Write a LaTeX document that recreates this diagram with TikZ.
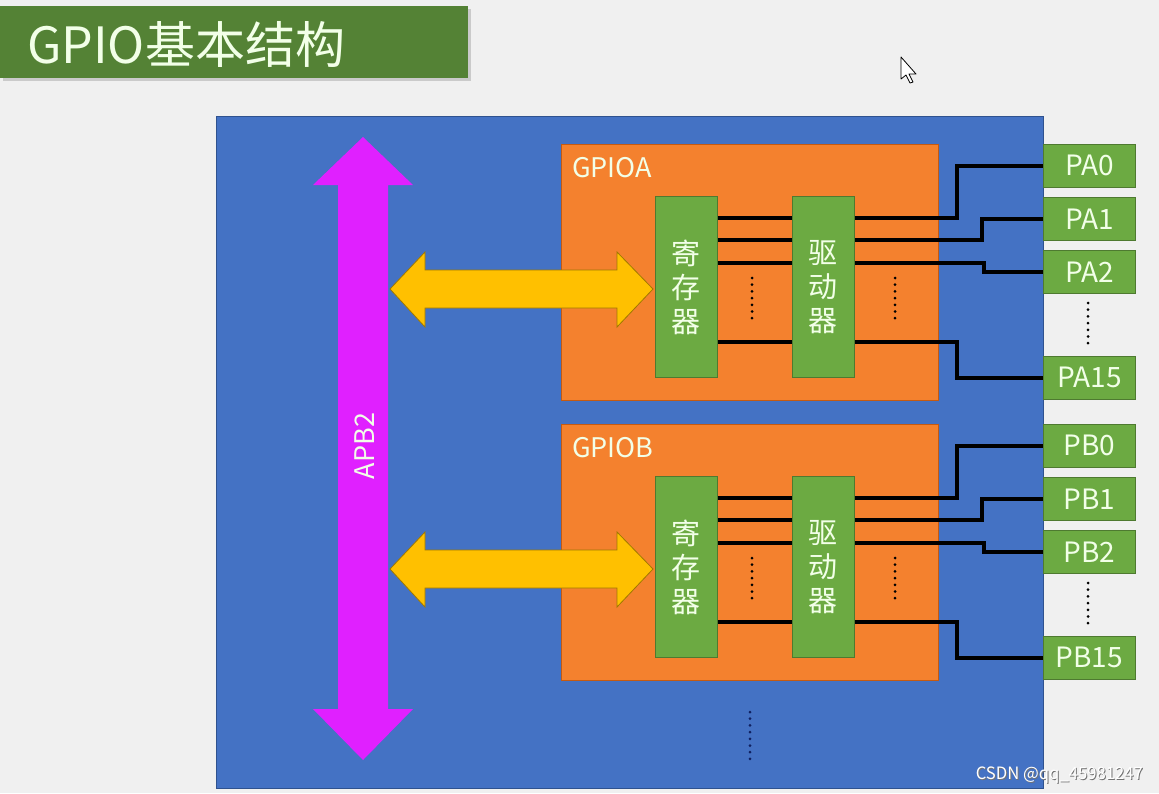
\documentclass[tikz,border=0pt]{standalone}
\usepackage{fontspec}
\setmainfont{Noto Sans CJK SC}
\definecolor{bgc}{HTML}{F0F0F0}
\definecolor{titlec}{HTML}{548235}
\definecolor{bluec}{HTML}{4472C4}
\definecolor{blueb}{HTML}{2F528F}
\definecolor{orangec}{HTML}{F4812E}
\definecolor{orangeb}{HTML}{C55A11}
\definecolor{greenc}{HTML}{6CAA42}
\definecolor{greenb}{HTML}{4E7A30}
\definecolor{yellowc}{HTML}{FFC000}
\definecolor{yellowb}{HTML}{A07800}
\definecolor{magc}{HTML}{E020FF}
\definecolor{textc}{HTML}{F2FFE8}
\definecolor{navyc}{HTML}{102060}
\begin{document}
\begin{tikzpicture}[x=1pt,y=-1pt,
  gbox/.style={fill=greenc,draw=greenb,line width=0.8pt,inner sep=0pt,anchor=north west,text=textc},
  pinbox/.style={gbox,minimum width=92pt,minimum height=43pt,font=\fontsize{28}{28}\selectfont},
  unitbox/.style={gbox,minimum width=62pt,minimum height=181pt,align=center,font=\fontsize{29}{34}\selectfont},
  portbox/.style={fill=orangec,draw=orangeb,line width=0.6pt,minimum width=377pt,minimum height=256pt,anchor=north west,inner sep=0pt},
  wire/.style={line width=3.2pt,black},
  dotline/.style={line width=3pt,dash pattern=on 0pt off 6.7pt,line cap=round},
  lbl/.style={text=textc,font=\fontsize{27}{27}\selectfont,inner sep=0pt}]
\useasboundingbox (0,0) rectangle (1159,793);
\fill[bgc] (0,0) rectangle (1159,793);
% title
\fill[black!30,opacity=0.6] (3,9) rectangle (471,81);
\node[fill=titlec,minimum width=468pt,minimum height=72pt,anchor=north west,inner sep=0pt] (titlebox) at (0,6) {};
\node[anchor=west,text=textc,font=\fontsize{50}{50}\selectfont,inner sep=0pt] (title) at (27,44) {GPIO基本结构};
% cursor
\draw[fill=white,line width=0.8pt,line join=round] (901,57) -- (901,79) -- (906,75) -- (910,83) -- (913,82) -- (909,74) -- (916,74) -- cycle;
% main chip
\node[fill=bluec,draw=blueb,line width=0.8pt,minimum width=827pt,minimum height=672pt,anchor=north west,inner sep=0pt] (chip) at (216,116) {};
% APB2 bus arrow
\fill[magc] (363,137) -- (413,185) -- (388,185) -- (388,709) -- (413,709) -- (363,760) -- (313,709) -- (338,709) -- (338,185) -- (313,185) -- cycle;
\node[lbl,rotate=90] (apb2) at (365,446) {APB2};
% ports
\foreach \g/\o/\pa/\pb/\pc/\pd in {A/0/PA0/PA1/PA2/PA15, B/280/PB0/PB1/PB2/PB15}{
  \node[portbox] (port\g) at (561,{144+\o}) {};
  \node[lbl,anchor=west] (name\g) at (572,{168+\o}) {GPIO\g};
  \fill[yellowc,draw=yellowb,line width=0.8pt,line join=miter]
    (390,{289+\o}) -- (425,{252+\o}) -- (425,{270+\o}) -- (617,{270+\o}) -- (617,{252+\o}) -- (653,{289+\o})
    -- (617,{327+\o}) -- (617,{308+\o}) -- (425,{308+\o}) -- (425,{327+\o}) -- cycle;
  \node[unitbox] (reg\g) at (655,{196+\o}) {寄\\存\\器};
  \node[unitbox] (drv\g) at (792,{196+\o}) {驱\\动\\器};
  \node[pinbox] (p0\g) at (1043,{144+\o}) {\pa};
  \node[pinbox] (p1\g) at (1043,{197+\o}) {\pb};
  \node[pinbox] (p2\g) at (1043,{250+\o}) {\pc};
  \node[pinbox] (p15\g) at (1043,{356+\o}) {\pd};
  \foreach \yy in {218,240,263,342}{
    \draw[wire] (reg\g.east |- 0,{\yy+\o}) -- (drv\g.west |- 0,{\yy+\o});
  }
  \draw[wire] (drv\g.east |- 0,{218+\o}) -- (957,{218+\o}) |- (p0\g.west);
  \draw[wire] (drv\g.east |- 0,{240+\o}) -- (982,{240+\o}) |- (p1\g.west);
  \draw[wire] (drv\g.east |- 0,{263+\o}) -- (984,{263+\o}) |- (p2\g.west);
  \draw[wire] (drv\g.east |- 0,{342+\o}) -- (957,{342+\o}) |- (p15\g.west);
  \draw[dotline,black] (752,{278+\o}) -- (752,{320+\o});
  \draw[dotline,black] (895,{278+\o}) -- (895,{320+\o});
  \draw[dotline,black] (1088,{303+\o}) -- (1088,{345+\o});
}
\draw[dotline,navyc] (750,712) -- (750,760);
% watermark
\node[anchor=east,text=black!55,font=\fontsize{17}{17}\selectfont,inner sep=0pt,xscale=0.98] at (1144,776) {CSDN @qq\_45981247};
\node[anchor=east,text=white,font=\fontsize{17}{17}\selectfont,inner sep=0pt,xscale=0.98] (wm) at (1143,775) {CSDN @qq\_45981247};
\end{tikzpicture}
\end{document}
